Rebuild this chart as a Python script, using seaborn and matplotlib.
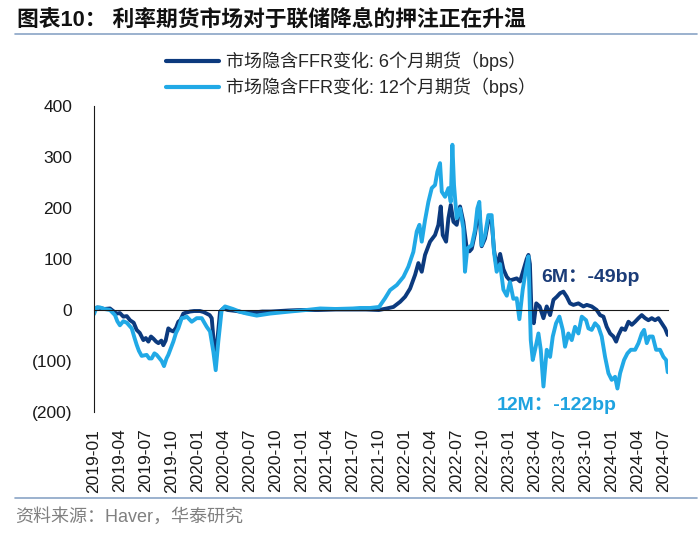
import matplotlib
matplotlib.use("Agg")
import matplotlib.pyplot as plt
from matplotlib.lines import Line2D
from matplotlib.ticker import FuncFormatter
import numpy as np
import pandas as pd
import seaborn as sns

# x values are months since 2019-01, y values in bps
MONTHS_6M = [
    0, 0.4, 0.7, 1.2, 1.85, 2.3, 2.63, 3.0, 3.4, 3.8, 4.17, 4.6, 4.94, 5.3, 5.72,
    6.0, 6.3, 6.6, 6.87, 7.2, 7.46, 7.8, 8.03, 8.3, 8.61, 8.9, 9.19, 9.5, 9.77,
    10.0, 10.35, 10.7, 11.12, 11.6, 12.28, 12.7, 13.06, 13.4, 13.64, 13.9, 14.14,
    14.4, 14.6, 14.99, 15.5, 16.5, 17.5, 18.5, 19.5, 20.5, 21.5, 22.5, 24, 26, 28,
    30, 31.5, 33.0, 33.92, 34.69, 35.46, 36.04, 36.62, 37.2, 37.58, 37.97, 38.35,
    38.93, 39.51, 39.9, 40.17, 40.4, 40.79, 41.06, 41.33, 41.64, 42.02, 42.41,
    42.79, 43.18, 43.5, 43.76, 44.14, 44.41, 44.64, 44.91, 45.3, 45.69, 46.07,
    46.34, 46.65, 47.05, 47.43, 47.82, 48.19, 48.59, 48.97, 49.36, 49.75, 50.13,
    50.33, 50.5, 50.7, 50.95, 51.24, 51.63, 52.07, 52.45, 52.84, 53.23, 53.62,
    54.0, 54.38, 54.77, 55.15, 55.54, 56.12, 56.7, 57.09, 57.66, 58.24, 58.63,
    59.02, 59.4, 59.79, 60.18, 60.49, 60.76, 61.14, 61.53, 61.92, 62.31, 62.69,
    63.08, 63.46, 63.85, 64.23, 64.62, 65.0, 65.39, 65.78, 66.16, 66.47,
]
BPS_6M = [
    0, 5, 4, 2, 3, -3, -7, -6, -13, -12, -20, -25, -39, -45, -59,
    -55, -62, -52, -56, -62, -65, -60, -69, -60, -36, -40, -42, -35, -23,
    -20, -7, -5, -3, -2, -2, -4, -7, -10, -16, -69, -85,
    -40, -3, 3, 0, -2, -5, -5, -3, -3, -2, -1, 0, 0, 1,
    1, 1, 0, 3, 6, 16, 26, 42, 69, 92, 75, 108,
    134, 147, 167, 203, 147, 134, 180, 206, 173, 167, 203,
    173, 121, 115, 120, 150, 180, 195, 125, 140, 175, 175,
    118, 85, 110, 80, 65, 58, 60, 62, 56, 78, 100,
    108, 90, -13, -26, 13, 7, -16, 7, -10, 20, 26,
    33, 36, 26, 13, 10, 13, 7, 10, 7, 0, -10,
    -13, -33, -46, -52, -62, -49, -36, -39, -23, -29, -23,
    -16, -10, -16, -20, -16, -20, -16, -26, -36, -49,
]

MONTHS_12M = [
    0, 0.3, 0.7, 1.2, 1.85, 2.43, 2.7, 3.0, 3.4, 3.8, 4.37, 4.7, 4.94, 5.2, 5.52,
    6.1, 6.4, 6.68, 7.0, 7.26, 7.6, 7.84, 8.11, 8.4, 8.61, 9.19, 9.5, 9.77, 10.16,
    10.5, 10.74, 11.32, 11.9, 12.48, 13.06, 13.44, 13.83, 14.1, 14.4, 14.79, 15.18,
    16.1, 17.0, 17.7, 18.85, 19.6, 20.4, 21.5, 22.7, 24.6, 26.2, 28, 30, 30.82, 32,
    33.03, 33.72, 34.3, 35.08, 35.85, 36.42, 37.0, 37.39, 37.7, 37.97, 38.35,
    38.74, 39.13, 39.51, 39.78, 40.09, 40.29, 40.67, 41.06, 41.33, 41.52, 41.71,
    42.02, 42.41, 42.79, 42.98, 43.25, 43.76, 44.14, 44.41, 44.64, 44.91, 45.3,
    45.69, 46.07, 46.34, 46.65, 47.05, 47.43, 47.82, 48.19, 48.58, 48.97, 49.28,
    49.67, 50.05, 50.33, 50.6, 50.83, 51.1, 51.49, 51.76, 52.07, 52.45, 52.84,
    53.15, 53.53, 53.92, 54.31, 54.57, 54.96, 55.35, 55.73, 56.12, 56.51, 57.01,
    57.28, 57.66, 58.05, 58.44, 58.82, 59.21, 59.6, 59.98, 60.37, 60.64, 60.95,
    61.41, 61.8, 62.19, 62.69, 63.08, 63.46, 63.73, 64.04, 64.35, 64.73, 65.12,
    65.58, 65.97, 66.28, 66.47,
]
BPS_12M = [
    -8, 5, 5, 2, 0, -10, -22, -30, -22, -25, -36, -55, -68, -80, -90,
    -88, -95, -95, -85, -88, -95, -100, -110, -95, -88, -62, -45, -36, -16,
    -15, -13, -23, -16, -16, -33, -42, -82, -118, -62, 0, 7,
    2, -4, -7, -11, -9, -7, -5, -3, 0, 3, 2, 3, 4, 4,
    6, 23, 39, 49, 65, 85, 114, 154, 167, 134, 176,
    212, 239, 245, 271, 288, 232, 222, 239, 212, 324, 245,
    180, 199, 160, 75, 121, 127, 157, 199, 212, 127, 147,
    186, 186, 114, 75, 90, 40, 28, 55, 22, 23, -18,
    40, 80, 105, -59, -98, -78, -46, -78, -150, -78, -92,
    -52, -26, -13, -39, -72, -46, -59, -33, -46, -13, -20,
    -36, -39, -26, -33, -52, -92, -124, -137, -131, -154, -124,
    -98, -85, -78, -78, -65, -46, -39, -65, -52, -52, -78,
    -78, -92, -98, -122,
]

SERIES = ["市场隐含FFR变化: 6个月期货（bps）", "市场隐含FFR变化: 12个月期货（bps）"]
COLORS = ["#0c3a7e", "#21a9e6"]
TICK_MONTHS = list(range(0, 67, 3))
TICK_LABELS = [f"{2019 + m // 12}-{m % 12 + 1:02d}" for m in TICK_MONTHS]
Y_TICKS = [-200, -100, 0, 100, 200, 300, 400]

FONT = ["Liberation Sans", "Noto Sans CJK SC", "DejaVu Sans"]

sns.set_style("white")
plt.rcParams["font.family"] = FONT
plt.rcParams["axes.unicode_minus"] = False

df = pd.concat([
    pd.DataFrame({"month": MONTHS_6M, "bps": BPS_6M, "series": SERIES[0]}),
    pd.DataFrame({"month": MONTHS_12M, "bps": BPS_12M, "series": SERIES[1]}),
])

fig = plt.figure(figsize=(7, 5.35), dpi=100)
ax = fig.add_axes([94 / 700, 1 - 412 / 535, (668 - 94) / 700, (412 - 106) / 535])

sns.lineplot(data=df, x="month", y="bps", hue="series", hue_order=SERIES,
             palette=COLORS, estimator=None, sort=False, linewidth=2.8,
             ax=ax, legend=False)

ax.set_xlim(0, 66.5)
ax.set_ylim(-200, 400)
ax.set_xlabel("")
ax.set_ylabel("")

# y axis: Excel style bracket negatives
ax.set_yticks(Y_TICKS)
ax.yaxis.set_major_formatter(FuncFormatter(
    lambda v, _: f"({abs(int(v))})" if v < 0 else f"{int(v)}"))
ax.tick_params(axis="y", direction="out", length=4.5, width=1, pad=11,
               labelsize=12.5, colors="#1a1a1a")

# x axis line sits on zero, labels at the bottom
for s in ("top", "right"):
    ax.spines[s].set_visible(False)
ax.spines["left"].set_color("#1a1a1a")
ax.spines["bottom"].set_color("#1a1a1a")
ax.spines["bottom"].set_position(("data", 0))
ax.set_xticks(TICK_MONTHS)
ax.tick_params(axis="x", direction="out", length=4, width=1, labelbottom=False,
               colors="#1a1a1a")

sec = ax.secondary_xaxis(0.0)
sec.spines["bottom"].set_visible(False)
sec.set_xticks(TICK_MONTHS, TICK_LABELS)
sec.tick_params(axis="x", length=0, pad=12, labelsize=12.5, rotation=90,
                colors="#1a1a1a")

ax.text(51.85, 63, "6M：-49bp", color="#1b3c78", fontsize=14, fontweight="bold",
        ha="left", va="center", zorder=5)
ax.text(53.6, -188, "12M：-122bp", color="#1fa3e0", fontsize=14,
        fontweight="bold", ha="center", va="center", zorder=5)

handles = [Line2D([0], [0], color=c, lw=3) for c in COLORS]
fig.legend(handles, SERIES, loc="center", bbox_to_anchor=(351 / 700, 1 - 74.5 / 535),
           frameon=False, fontsize=13, handlelength=2.9, handletextpad=0.4,
           labelspacing=0.35, borderpad=0)

fig.text(17 / 700, 1 - 20 / 535, "图表10： 利率期货市场对于联储降息的押注正在升温",
         fontsize=15.7, fontweight="bold", ha="left", va="center", color="#111111")
fig.add_artist(Line2D([15 / 700, 697 / 700], [1 - 34 / 535] * 2,
                      color="#8aa4c6", lw=1.2))
fig.add_artist(Line2D([15 / 700, 697 / 700], [1 - 498 / 535] * 2,
                      color="#8aa4c6", lw=1.2))
fig.text(15 / 700, 1 - 517 / 535, "资料来源：Haver，华泰研究", fontsize=13,
         ha="left", va="center", color="#808080")

fig.savefig("out.png", dpi=100)
